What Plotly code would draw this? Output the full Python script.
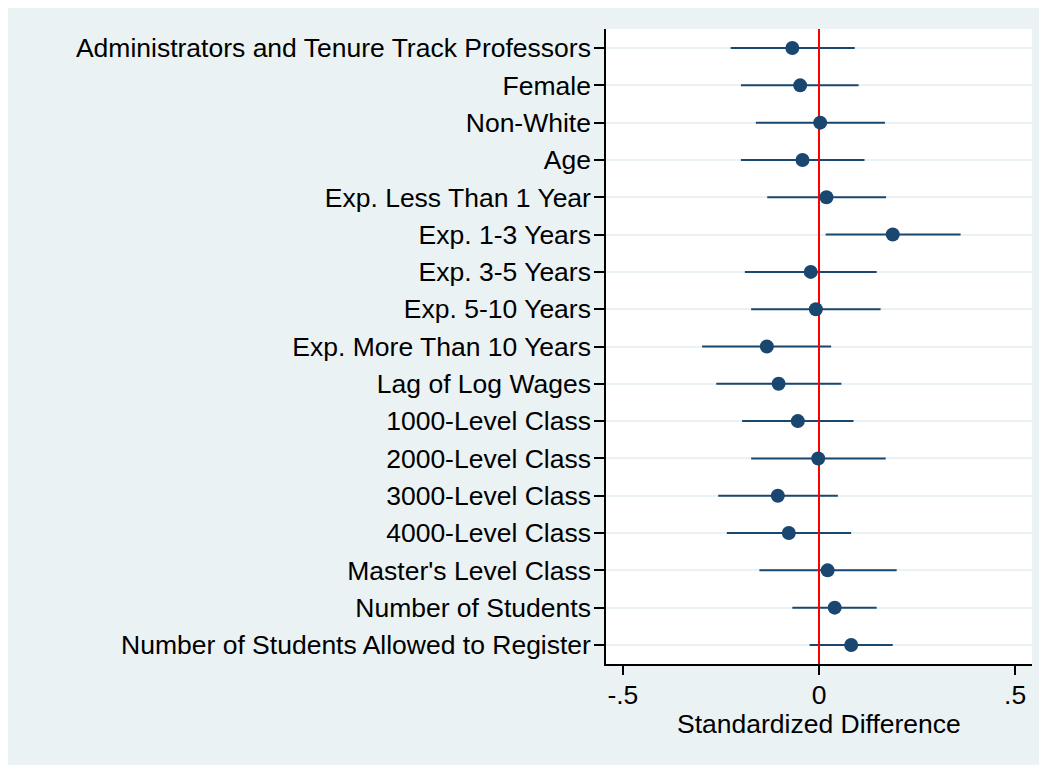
import plotly.graph_objects as go

labels = [
    "Administrators and Tenure Track Professors",
    "Female",
    "Non-White",
    "Age",
    "Exp. Less Than 1 Year",
    "Exp. 1-3 Years",
    "Exp. 3-5 Years",
    "Exp. 5-10 Years",
    "Exp. More Than 10 Years",
    "Lag of Log Wages",
    "1000-Level Class",
    "2000-Level Class",
    "3000-Level Class",
    "4000-Level Class",
    "Master's Level Class",
    "Number of Students",
    "Number of Students Allowed to Register",
]
estimate = [-0.068, -0.048, 0.003, -0.042, 0.019, 0.188, -0.021, -0.008, -0.133,
            -0.103, -0.054, -0.002, -0.105, -0.077, 0.022, 0.040, 0.082]
ci_low = [-0.225, -0.199, -0.161, -0.199, -0.132, 0.017, -0.189, -0.173, -0.298,
          -0.262, -0.196, -0.173, -0.257, -0.235, -0.152, -0.068, -0.024]
ci_high = [0.091, 0.101, 0.168, 0.116, 0.171, 0.361, 0.147, 0.157, 0.031,
           0.057, 0.088, 0.170, 0.048, 0.082, 0.198, 0.147, 0.188]
x_ticks = [-0.5, 0, 0.5]
x_tick_text = ["-.5", "0", ".5"]
x_title = "Standardized Difference"
ref_value = 0

navy = "#1a476f"
bg = "#EAF2F3"
font = "Liberation Sans, Arial, sans-serif"
fsize = 26.5

ypos = list(range(len(labels)))
y_range = [len(labels) - 1 + 0.51, -0.51]

fig = go.Figure()
# confidence intervals
fig.add_trace(go.Scatter(
    x=estimate, y=ypos, mode="markers",
    marker=dict(size=1, color="rgba(0,0,0,0)"),
    error_x=dict(type="data", symmetric=False,
                 array=[h - e for h, e in zip(ci_high, estimate)],
                 arrayminus=[e - l for e, l in zip(estimate, ci_low)],
                 color=navy, thickness=2, width=0),
    hoverinfo="skip", showlegend=False,
))
# reference line
fig.add_trace(go.Scatter(
    x=[ref_value, ref_value], y=y_range, mode="lines",
    line=dict(color="#ff0000", width=2), hoverinfo="skip", showlegend=False,
))
# point estimates
fig.add_trace(go.Scatter(
    x=estimate, y=ypos, mode="markers",
    marker=dict(size=14, color=navy, line=dict(width=0)),
    showlegend=False,
))

fig.add_annotation(
    text=x_title, xref="paper", yref="paper", x=0.5, y=0,
    xanchor="center", yanchor="middle", yshift=-60, showarrow=False,
    font=dict(family=font, size=fsize, color="black"),
)

fig.update_layout(
    width=1047, height=765,
    margin=dict(l=598, r=23, t=21, b=109),
    paper_bgcolor=bg, plot_bgcolor="white",
    font=dict(family=font, size=fsize, color="black"),
    xaxis=dict(
        range=[-0.543, 0.543], tickvals=x_ticks, ticktext=x_tick_text,
        showgrid=False, zeroline=False,
        showline=True, linecolor="black", linewidth=1.5,
        ticks="outside", ticklen=9, tickwidth=1.5, tickcolor="black",
        ticklabelstandoff=-3,
        tickfont=dict(family=font, size=fsize, color="black"),
    ),
    yaxis=dict(
        range=y_range, tickvals=ypos, ticktext=labels,
        showgrid=True, gridcolor=bg, gridwidth=1.5, zeroline=False,
        showline=True, linecolor="black", linewidth=1.5,
        ticks="outside", ticklen=10, tickwidth=1.5, tickcolor="black",
        ticklabelstandoff=-2,
        tickfont=dict(family=font, size=fsize, color="black"),
    ),
)

fig.write_html("out.html")
